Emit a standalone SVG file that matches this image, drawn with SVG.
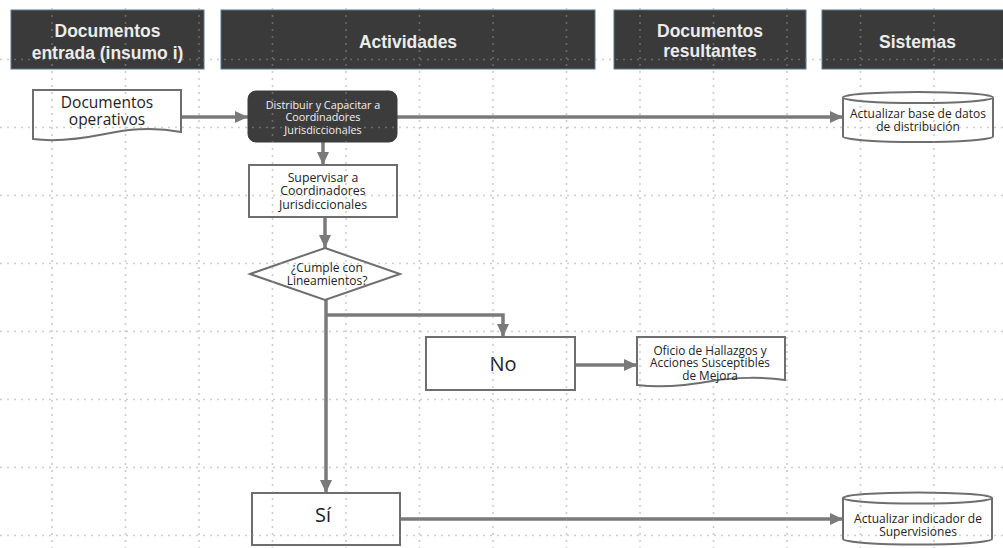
<svg xmlns="http://www.w3.org/2000/svg" width="1003" height="548" viewBox="0 0 1003 548">
<defs>
<style>
.hdr{fill:#3a3a3a;stroke:#5b7590;stroke-width:1}
.ht{font-family:"Liberation Sans",Arial,sans-serif;font-weight:bold;font-size:17.5px;fill:#ececec;text-anchor:middle}
.nd{fill:#ffffff;stroke:#6e6e6e;stroke-width:2}
.tx{font-family:"Open Sans","Noto Sans",sans-serif;fill:#222;text-anchor:middle}
.wt{font-family:"Open Sans","Noto Sans",sans-serif;fill:#f2f2f2;text-anchor:middle}
.cn{fill:none;stroke:#7a7a7a;stroke-width:3.5}
.grid line{stroke:#9a9a9a;stroke-opacity:0.5;stroke-width:1.6;stroke-dasharray:2 5}
</style>
<marker id="ah" markerUnits="userSpaceOnUse" markerWidth="13" markerHeight="12" refX="13" refY="6" orient="auto">
<path d="M0,0 L13,6 L0,12 Z" fill="#7a7a7a"/>
</marker>
</defs>
<rect width="1003" height="548" fill="#ffffff"/>

<g id="headers">
<rect class="hdr" x="11" y="10" width="193" height="59"/>
<text class="ht" x="107.5" y="37">Documentos</text>
<text class="ht" x="107.5" y="59">entrada (insumo i)</text>
<rect class="hdr" x="221" y="10" width="374" height="59"/>
<text class="ht" x="408" y="48">Actividades</text>
<rect class="hdr" x="614" y="10" width="192" height="59"/>
<text class="ht" x="710" y="37">Documentos</text>
<text class="ht" x="710" y="57">resultantes</text>
<rect class="hdr" x="822" y="10" width="185" height="59"/>
<text class="ht" x="917.5" y="48">Sistemas</text>
</g>

<g id="connectors">
<line class="cn" x1="181" y1="117" x2="248" y2="117" marker-end="url(#ah)"/>
<line class="cn" x1="397" y1="117" x2="843" y2="117" marker-end="url(#ah)"/>
<line class="cn" x1="323" y1="142" x2="323" y2="165" marker-end="url(#ah)"/>
<line class="cn" x1="325" y1="217" x2="325" y2="248" marker-end="url(#ah)"/>
<line class="cn" x1="326" y1="300" x2="326" y2="493" marker-end="url(#ah)"/>
<polyline class="cn" points="326,315 503,315 503,337" marker-end="url(#ah)"/>
<line class="cn" x1="575" y1="365" x2="637" y2="365" marker-end="url(#ah)"/>
<line class="cn" x1="400" y1="519" x2="843" y2="519" marker-end="url(#ah)"/>
</g>

<g id="doc-operativos">
<path class="nd" d="M33,90 H181 V132 C150,126 125,130 105,134 C80,139 55,142 33,139 Z"/>
<text class="tx" x="107" y="108" font-size="15.5">Documentos</text>
<text class="tx" x="107" y="125" font-size="15.5">operativos</text>
</g>

<g id="distribuir">
<rect x="248" y="91" width="149" height="51" rx="8" fill="#3c3c3c" stroke="#3c3c3c"/>
<text class="wt" x="323" y="108.5" font-size="10.8">Distribuir y Capacitar a</text>
<text class="wt" x="323" y="121" font-size="10.8">Coordinadores</text>
<text class="wt" x="323" y="133.5" font-size="10.8">Jurisdiccionales</text>
</g>

<g id="supervisar">
<rect class="nd" x="249" y="165" width="148" height="52"/>
<text class="tx" x="323" y="181.5" font-size="12.3">Supervisar a</text>
<text class="tx" x="323" y="195" font-size="12.3">Coordinadores</text>
<text class="tx" x="323" y="208.5" font-size="12.3">Jurisdiccionales</text>
</g>

<g id="decision">
<polygon class="nd" points="325,248 400,274 325,300 250,274"/>
<text class="tx" x="327" y="272" font-size="12">¿Cumple con</text>
<text class="tx" x="327" y="285" font-size="12">Lineamientos?</text>
</g>

<g id="no">
<rect class="nd" x="426" y="337" width="149" height="53"/>
<text class="tx" x="503" y="371" font-size="20">No</text>
</g>

<g id="oficio">
<path class="nd" d="M637,337 H785 V380 C765,377 735,377 712,381 C690,385 662,388 637,385 Z"/>
<text class="tx" x="710" y="354.5" font-size="11.8">Oficio de Hallazgos y</text>
<text class="tx" x="710" y="367" font-size="11.8">Acciones Susceptibles</text>
<text class="tx" x="710" y="379.5" font-size="11.8">de Mejora</text>
</g>

<g id="si">
<rect class="nd" x="252" y="493" width="148" height="52"/>
<text class="tx" x="323" y="522" font-size="20">Sí</text>
</g>

<g id="bd-distribucion">
<path class="nd" d="M843,97.5 A75,5.5 0 0 1 993,97.5 V136.5 A75,5.5 0 0 1 843,136.5 Z"/>
<path class="nd" fill="none" d="M843,97.5 A75,5.5 0 0 0 993,97.5"/>
<text class="tx" x="918" y="118" font-size="12">Actualizar base de datos</text>
<text class="tx" x="918" y="131" font-size="12">de distribución</text>
</g>

<g id="bd-supervisiones">
<path class="nd" d="M843,498 A74.5,5.5 0 0 1 992,498 V539 A74.5,5.5 0 0 1 843,539 Z"/>
<path class="nd" fill="none" d="M843,498 A74.5,5.5 0 0 0 992,498"/>
<text class="tx" x="918" y="523" font-size="12">Actualizar indicador de</text>
<text class="tx" x="918" y="536" font-size="12">Supervisiones</text>
</g>

<g class="grid">
<line x1="52" y1="8" x2="52" y2="548"/>
<line x1="125.5" y1="8" x2="125.5" y2="548"/>
<line x1="199" y1="8" x2="199" y2="548"/>
<line x1="272.5" y1="8" x2="272.5" y2="548"/>
<line x1="346" y1="8" x2="346" y2="548"/>
<line x1="419.5" y1="8" x2="419.5" y2="548"/>
<line x1="493" y1="8" x2="493" y2="548"/>
<line x1="566.5" y1="8" x2="566.5" y2="548"/>
<line x1="640" y1="8" x2="640" y2="548"/>
<line x1="713.5" y1="8" x2="713.5" y2="548"/>
<line x1="787" y1="8" x2="787" y2="548"/>
<line x1="860.5" y1="8" x2="860.5" y2="548"/>
<line x1="934" y1="8" x2="934" y2="548"/>
<line x1="0" y1="59.5" x2="1003" y2="59.5"/>
<line x1="0" y1="127.5" x2="1003" y2="127.5"/>
<line x1="0" y1="195.5" x2="1003" y2="195.5"/>
<line x1="0" y1="263.5" x2="1003" y2="263.5"/>
<line x1="0" y1="331.5" x2="1003" y2="331.5"/>
<line x1="0" y1="399.5" x2="1003" y2="399.5"/>
<line x1="0" y1="467.5" x2="1003" y2="467.5"/>
<line x1="0" y1="535.5" x2="1003" y2="535.5"/>
</g>
</svg>
